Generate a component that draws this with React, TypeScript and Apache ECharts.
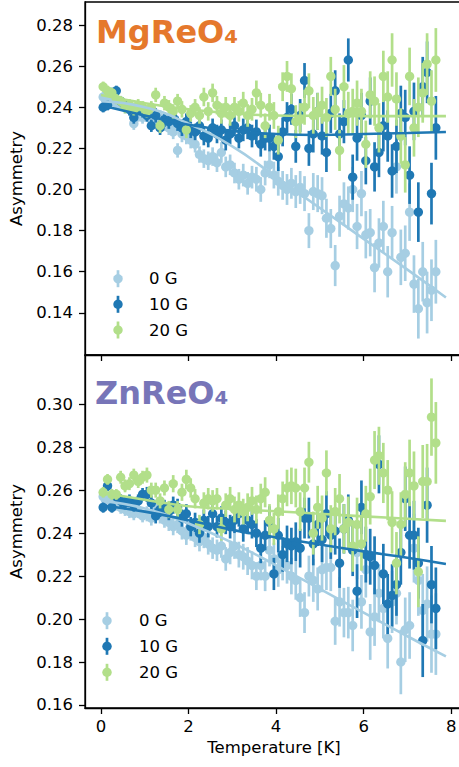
import React, { useEffect, useRef } from "react";
import * as echarts from "echarts";

// Temperatures (K) at which the asymmetry was measured
const temps = [
  0.05, 0.15, 0.25, 0.35, 0.45, 0.55, 0.65, 0.75, 0.85, 0.95,
  1.05, 1.15, 1.25, 1.35, 1.45, 1.55, 1.65, 1.75, 1.85, 1.95,
  2.05, 2.15, 2.25, 2.35, 2.45, 2.55, 2.65, 2.75, 2.85, 2.95,
  3.05, 3.15, 3.25, 3.35, 3.45, 3.55, 3.65, 3.75, 3.85, 3.95,
  4.05, 4.15, 4.25, 4.35, 4.45, 4.55, 4.65, 4.75, 4.85, 4.95,
  5.05, 5.15, 5.25, 5.35, 5.45, 5.55, 5.65, 5.75, 5.85, 5.95,
  6.05, 6.15, 6.25, 6.35, 6.45, 6.55, 6.65, 6.75, 6.85, 6.95,
  7.05, 7.15, 7.25, 7.35, 7.45, 7.55, 7.65,
];

// MgReO4
const mg0G = [
  0.245, 0.244, 0.243, 0.242, 0.241, 0.240, 0.239, 0.232, 0.236, 0.235,
  0.236, 0.234, 0.233, 0.235, 0.232, 0.230, 0.228, 0.219, 0.227, 0.226,
  0.224, 0.222, 0.217, 0.215, 0.214, 0.216, 0.213, 0.218, 0.211, 0.212,
  0.208, 0.205, 0.207, 0.203, 0.206, 0.205, 0.200, 0.208, 0.212, 0.207,
  0.204, 0.202, 0.200, 0.203, 0.199, 0.201, 0.198, 0.180, 0.199, 0.198,
  0.197, 0.186, 0.181, 0.163, 0.187, 0.193, 0.191, 0.200, 0.182, 0.198,
  0.178, 0.179, 0.162, 0.174, 0.182, 0.160, 0.179, 0.211, 0.167, 0.169,
  0.189, 0.154, 0.142, 0.160, 0.145, 0.151, 0.160,
];
const mg10G = [
  0.240, 0.241, 0.247, 0.248, 0.243, 0.241, 0.239, 0.235, 0.240, 0.238,
  0.236, 0.231, 0.236, 0.230, 0.234, 0.233, 0.235, 0.232, 0.230, 0.233,
  0.229, 0.228, 0.231, 0.226, 0.225, 0.230, 0.227, 0.229, 0.224, 0.227,
  0.231, 0.225, 0.229, 0.230, 0.226, 0.228, 0.222, 0.225, 0.225, 0.221,
  0.216, 0.228, 0.235, 0.239, 0.221, 0.236, 0.253, 0.220, 0.227, 0.238,
  0.226, 0.218, 0.237, 0.248, 0.227, 0.233, 0.263, 0.206, 0.225, 0.236,
  0.214, 0.243, 0.211, 0.218, 0.231, 0.226, 0.209, 0.221, 0.237, 0.235,
  0.207, 0.238, 0.189, 0.250, 0.257, 0.198, 0.230,
];
const mg20G = [
  0.250, 0.248, 0.247, 0.244, 0.243, 0.240, 0.241, 0.239, 0.241, 0.240,
  0.238, 0.240, 0.246, 0.231, 0.242, 0.240, 0.238, 0.243, 0.239, 0.229,
  0.237, 0.240, 0.236, 0.245, 0.238, 0.247, 0.241, 0.237, 0.240, 0.236,
  0.240, 0.238, 0.242, 0.236, 0.239, 0.247, 0.241, 0.231, 0.240, 0.236,
  0.224, 0.250, 0.255, 0.249, 0.233, 0.234, 0.240, 0.248, 0.236, 0.238,
  0.241, 0.235, 0.255, 0.239, 0.219, 0.250, 0.237, 0.238, 0.242, 0.238,
  0.222, 0.246, 0.243, 0.230, 0.255, 0.245, 0.263, 0.244, 0.226, 0.212,
  0.255, 0.230, 0.240, 0.247, 0.261, 0.243, 0.263,
];
const mgErr = [
  0.0025, 0.0025, 0.0025, 0.0025, 0.0025, 0.003, 0.003, 0.003, 0.003, 0.003,
  0.003, 0.003, 0.0035, 0.0035, 0.0035, 0.0035, 0.0035, 0.0035, 0.004, 0.004,
  0.004, 0.004, 0.004, 0.0045, 0.0045, 0.0045, 0.0045, 0.005, 0.005, 0.005,
  0.005, 0.005, 0.0055, 0.0055, 0.0055, 0.006, 0.006, 0.006, 0.0065, 0.0065,
  0.007, 0.007, 0.0075, 0.0075, 0.008, 0.008, 0.0085, 0.0085, 0.009, 0.009,
  0.009, 0.0095, 0.0095, 0.01, 0.01, 0.0105, 0.0105, 0.011, 0.011, 0.011,
  0.0115, 0.0115, 0.012, 0.012, 0.0125, 0.0125, 0.013, 0.013, 0.0135, 0.0135,
  0.014, 0.014, 0.0145, 0.0145, 0.015, 0.015, 0.0155,
];

// ZnReO4
const zn0G = [
  0.257, 0.256, 0.254, 0.253, 0.252, 0.251, 0.250, 0.249, 0.250, 0.248,
  0.249, 0.247, 0.252, 0.248, 0.246, 0.245, 0.243, 0.244, 0.241, 0.239,
  0.241, 0.238, 0.236, 0.238, 0.235, 0.233, 0.232, 0.234, 0.228, 0.231,
  0.234, 0.230, 0.229, 0.227, 0.225, 0.220, 0.225, 0.220, 0.232, 0.228,
  0.223, 0.226, 0.225, 0.220, 0.218, 0.210, 0.203, 0.220, 0.218, 0.214,
  0.223, 0.224, 0.224, 0.199, 0.208, 0.203, 0.203, 0.197, 0.231, 0.208,
  0.223, 0.194, 0.201, 0.212, 0.205, 0.191, 0.208, 0.212, 0.180, 0.195,
  0.197, 0.233, 0.218, 0.204, 0.207, 0.193, 0.193,
];
const zn10G = [
  0.252, 0.262, 0.252, 0.257, 0.255, 0.254, 0.255, 0.253, 0.255, 0.258,
  0.258, 0.254, 0.248, 0.251, 0.252, 0.250, 0.253, 0.252, 0.247, 0.249,
  0.243, 0.245, 0.240, 0.246, 0.243, 0.249, 0.243, 0.247, 0.245, 0.243,
  0.246, 0.249, 0.242, 0.246, 0.244, 0.240, 0.233, 0.239, 0.245, 0.221,
  0.239, 0.230, 0.235, 0.234, 0.236, 0.233, 0.247, 0.247, 0.235, 0.244,
  0.237, 0.249, 0.239, 0.241, 0.226, 0.242, 0.246, 0.232, 0.213, 0.252,
  0.230, 0.229, 0.225, 0.272, 0.221, 0.207, 0.211, 0.216, 0.231, 0.256,
  0.239, 0.239, 0.226, 0.190, 0.253, 0.216, 0.205,
];
const zn20G = [
  0.259, 0.265, 0.258, 0.258, 0.266, 0.262, 0.263, 0.267, 0.264, 0.266,
  0.267, 0.260, 0.260, 0.255, 0.261, 0.251, 0.263, 0.251, 0.259, 0.265,
  0.261, 0.256, 0.244, 0.254, 0.256, 0.255, 0.256, 0.242, 0.253, 0.256,
  0.251, 0.253, 0.250, 0.252, 0.255, 0.251, 0.256, 0.259, 0.246, 0.242,
  0.250, 0.256, 0.261, 0.262, 0.261, 0.250, 0.261, 0.273, 0.240, 0.252,
  0.247, 0.268, 0.242, 0.250, 0.256, 0.242, 0.245, 0.234, 0.244, 0.235,
  0.249, 0.257, 0.274, 0.276, 0.268, 0.260, 0.245, 0.226, 0.244, 0.258,
  0.268, 0.262, 0.222, 0.264, 0.264, 0.294, 0.282,
];
const znErr = [
  0.0025, 0.0025, 0.0025, 0.0025, 0.003, 0.003, 0.003, 0.003, 0.003, 0.003,
  0.0035, 0.0035, 0.0035, 0.0035, 0.0035, 0.004, 0.004, 0.004, 0.004, 0.0045,
  0.0045, 0.0045, 0.0045, 0.005, 0.005, 0.005, 0.005, 0.0055, 0.0055, 0.0055,
  0.006, 0.006, 0.006, 0.0065, 0.0065, 0.0065, 0.007, 0.007, 0.0075, 0.0075,
  0.008, 0.008, 0.0085, 0.0085, 0.009, 0.009, 0.0095, 0.0095, 0.01, 0.01,
  0.0105, 0.0105, 0.011, 0.011, 0.0115, 0.0115, 0.012, 0.012, 0.0125, 0.0125,
  0.013, 0.013, 0.0135, 0.0135, 0.014, 0.014, 0.0145, 0.0145, 0.015, 0.015,
  0.0155, 0.016, 0.0165, 0.017, 0.0175, 0.018, 0.019,
];

// Fit curves
const fitTemps = [0, 1, 2, 3, 4, 5, 6, 7, 7.88];
const mgFit0G = [0.243, 0.240, 0.232, 0.221, 0.206, 0.191, 0.176, 0.161, 0.1475];
const mgFit10G = [0.241, 0.236, 0.2315, 0.2285, 0.227, 0.2265, 0.227, 0.2275, 0.228];
const mgFit20G = [0.246, 0.242, 0.239, 0.237, 0.236, 0.2358, 0.2357, 0.2357, 0.2357];
const znFit0G = [0.255, 0.2515, 0.2445, 0.2355, 0.225, 0.214, 0.203, 0.192, 0.1826];
const znFit10G = [0.253, 0.250, 0.246, 0.2415, 0.238, 0.2347, 0.2315, 0.2285, 0.2256];
const znFit20G = [0.259, 0.2555, 0.2525, 0.2512, 0.2502, 0.249, 0.2478, 0.2467, 0.2457];

const fieldLabels = ["0 G", "10 G", "20 G"];
const xTicks = [0, 2, 4, 6, 8];
const yTicksMg = [0.14, 0.16, 0.18, 0.2, 0.22, 0.24, 0.26, 0.28];
const yTicksZn = [0.16, 0.18, 0.2, 0.22, 0.24, 0.26, 0.28, 0.3];

const COLORS = ["#a6cee3", "#1f78b4", "#b2df8a"];
const FONT = "DejaVu Sans";
const FS = 16.5;

function errSeries(name: string, vals: number[], errs: number[], color: string, idx: number) {
  return {
    type: "custom",
    name,
    xAxisIndex: idx,
    yAxisIndex: idx,
    encode: { x: 0, y: 1 },
    data: temps.map((t, i) => [t, vals[i], errs[i]]),
    renderItem: (params: any, api: any) => {
      const t = api.value(0);
      const v = api.value(1);
      const e = api.value(2);
      const c = api.coord([t, v]);
      const hi = api.coord([t, v + e]);
      const lo = api.coord([t, v - e]);
      return {
        type: "group",
        children: [
          {
            type: "line",
            shape: { x1: c[0], y1: hi[1], x2: c[0], y2: lo[1] },
            style: { stroke: color, lineWidth: 2.7 },
          },
          {
            type: "circle",
            shape: { cx: c[0], cy: c[1], r: 4.7 },
            style: { fill: color },
          },
        ],
      };
    },
  };
}

function fitSeries(name: string, vals: number[], color: string, idx: number) {
  return {
    type: "line",
    name,
    xAxisIndex: idx,
    yAxisIndex: idx,
    data: fitTemps.map((t, i) => [t, vals[i]]),
    smooth: true,
    showSymbol: false,
    lineStyle: { color, width: 2.6 },
    itemStyle: { color },
  };
}

function legendGraphics(x: number, ys: number[], textX: number) {
  const els: any[] = [];
  fieldLabels.forEach((lab, i) => {
    const y = ys[i];
    els.push({
      type: "line",
      shape: { x1: x, y1: y - 8.5, x2: x, y2: y + 8.5 },
      style: { stroke: COLORS[i], lineWidth: 2.7 },
    });
    els.push({ type: "circle", shape: { cx: x, cy: y, r: 4.7 }, style: { fill: COLORS[i] } });
    els.push({
      type: "text",
      x: textX,
      y,
      style: { text: lab, fontSize: FS, fontFamily: FONT, fill: "#000", verticalAlign: "middle" },
    });
  });
  return els;
}

const XMIN = -0.365;
const XMAX = 8.27;

function xAxis(idx: number, bottom: boolean) {
  return {
    type: "value",
    gridIndex: idx,
    min: XMIN,
    max: XMAX,
    splitLine: { show: false },
    axisLine: { onZero: false, lineStyle: { color: "#000", width: 1.3 } },
    axisTick: { customValues: xTicks, length: 6, lineStyle: { color: "#000", width: 1.3 } },
    axisLabel: {
      show: bottom,
      customValues: xTicks,
      margin: 10,
      fontSize: FS,
      fontFamily: FONT,
      color: "#000",
    },
    name: bottom ? "Temperature [K]" : "",
    nameLocation: "middle",
    nameGap: 31,
    nameTextStyle: { fontSize: FS, fontFamily: FONT, color: "#000" },
  };
}

function yAxis(idx: number, min: number, max: number, ticks: number[]) {
  return {
    type: "value",
    gridIndex: idx,
    min,
    max,
    splitLine: { show: false },
    axisLine: { onZero: false, lineStyle: { color: "#000", width: 1.3 } },
    axisTick: { customValues: ticks, length: 6, lineStyle: { color: "#000", width: 1.3 } },
    axisLabel: {
      customValues: ticks,
      margin: 12,
      fontSize: FS,
      fontFamily: FONT,
      color: "#000",
      formatter: (v: number) => v.toFixed(2),
    },
    name: "Asymmetry",
    nameLocation: "middle",
    nameGap: 56,
    nameTextStyle: { fontSize: FS, fontFamily: FONT, color: "#000" },
  };
}

export default function App() {
  const ref = useRef<HTMLDivElement>(null);
  useEffect(() => {
    if (!ref.current) return;
    const chart = echarts.init(ref.current, null, { renderer: "svg" });
    const gridStyle = { show: true, borderColor: "#000", borderWidth: 1.3, backgroundColor: "transparent" };
    const option: any = {
      animation: false,
      backgroundColor: "#fff",
      grid: [
        { left: 85, top: 2, width: 378, height: 353, ...gridStyle },
        { left: 85, top: 355, width: 378, height: 353, ...gridStyle },
      ],
      xAxis: [xAxis(0, false), xAxis(1, true)],
      yAxis: [yAxis(0, 0.1195, 0.2912, yTicksMg), yAxis(1, 0.1586, 0.3229, yTicksZn)],
      series: [
        errSeries(fieldLabels[0], mg0G, mgErr, COLORS[0], 0),
        fitSeries(fieldLabels[0] + " fit", mgFit0G, COLORS[0], 0),
        errSeries(fieldLabels[1], mg10G, mgErr, COLORS[1], 0),
        fitSeries(fieldLabels[1] + " fit", mgFit10G, COLORS[1], 0),
        errSeries(fieldLabels[2], mg20G, mgErr, COLORS[2], 0),
        fitSeries(fieldLabels[2] + " fit", mgFit20G, COLORS[2], 0),
        errSeries(fieldLabels[0], zn0G, znErr, COLORS[0], 1),
        fitSeries(fieldLabels[0] + " fit", znFit0G, COLORS[0], 1),
        errSeries(fieldLabels[1], zn10G, znErr, COLORS[1], 1),
        fitSeries(fieldLabels[1] + " fit", znFit10G, COLORS[1], 1),
        errSeries(fieldLabels[2], zn20G, znErr, COLORS[2], 1),
        fitSeries(fieldLabels[2] + " fit", znFit20G, COLORS[2], 1),
      ],
      graphic: [
        {
          type: "text",
          x: 96,
          y: 32,
          style: {
            text: "MgReO₄",
            fontSize: 32,
            fontWeight: "bold",
            fontFamily: FONT,
            fill: "#e5782c",
            verticalAlign: "middle",
          },
        },
        {
          type: "text",
          x: 95,
          y: 392.5,
          style: {
            text: "ZnReO₄",
            fontSize: 32,
            fontWeight: "bold",
            fontFamily: FONT,
            fill: "#7775b8",
            verticalAlign: "middle",
          },
        },
        ...legendGraphics(118, [278.7, 304.3, 330], 149),
        ...legendGraphics(107, [620.7, 646.3, 672.3], 139),
      ],
    };
    chart.setOption(option);
    return () => chart.dispose();
  }, []);
  return <div ref={ref} style={{ position: "fixed", left: 0, top: 0, width: 470, height: 767 }} />;
}
